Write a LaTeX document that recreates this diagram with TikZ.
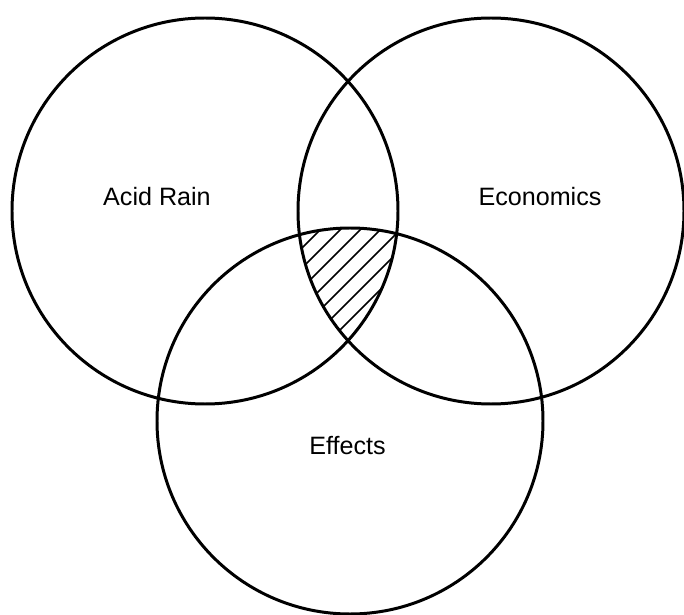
\documentclass[tikz,border=0pt]{standalone}
\usepackage{fontspec}
\setmainfont{Liberation Sans}
\usepackage{tikz}

\begin{document}
\begin{tikzpicture}[x=0.02cm, y=-0.02cm,
    ring/.style={line width=1.7pt},
    hatch/.style={line width=1pt},
    setname/.style={anchor=base, font=\fontsize{14.3}{17}\selectfont}]
\useasboundingbox (0,0) rectangle (684,615);
\coordinate (acid) at (205,211);
\coordinate (econ) at (491,211);
\coordinate (eff) at (350,421);
\begin{scope}
\clip (acid) circle (193);
\clip (econ) circle (193);
\clip (eff) circle (193);
\foreach \c in {550,570,...,690}
    \draw[hatch] (\c-400,400) -- ++(300,-300);
\end{scope}
\draw[ring] (acid) circle (193);
\draw[ring] (econ) circle (193);
\draw[ring] (eff) circle (193);
\node[setname] (acidlabel) at (157,206) {Acid Rain};
\node[setname] (econlabel) at (540,206) {Economics};
\node[setname] (efflabel) at (347.5,455) {Effects};
\end{tikzpicture}
\end{document}
